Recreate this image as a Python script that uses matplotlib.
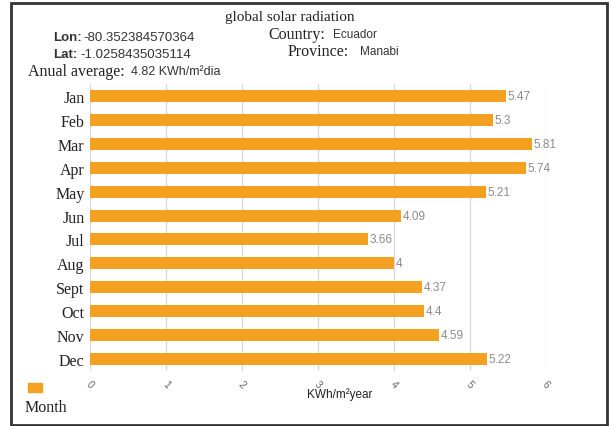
"""Global solar radiation by month - Manabi, Ecuador."""

import matplotlib
matplotlib.use("Agg")
import matplotlib.pyplot as plt
from matplotlib.patches import Rectangle

months = ["Jan", "Feb", "Mar", "Apr", "May", "Jun",
          "Jul", "Aug", "Sept", "Oct", "Nov", "Dec"]
radiation = [5.47, 5.3, 5.81, 5.74, 5.21, 4.09,
             3.66, 4, 4.37, 4.4, 4.59, 5.22]
value_labels = ["5.47", "5.3", "5.81", "5.74", "5.21", "4.09",
                "3.66", "4", "4.37", "4.4", "4.59", "5.22"]
x_ticks = [0, 1, 2, 3, 4, 5, 6]

lon = "-80.352384570364"
lat = "-1.0258435035114"
country = "Ecuador"
province = "Manabi"
annual_avg = "4.82"

W, H = 611, 427
ORANGE = "#F4A021"
SERIF = "Liberation Serif"
SANS = "Liberation Sans"
DARK = "#222222"

fig = plt.figure(figsize=(W / 100, H / 100), dpi=100)

# axes placed in pixel terms
left, right, top, bottom = 90, 546, 85, 372
ax = fig.add_axes([left / W, 1 - bottom / H, (right - left) / W, (bottom - top) / H])

y = list(range(len(months)))
ax.barh(y, radiation, height=0.5, color=ORANGE, zorder=3)
for yi, v, lab in zip(y, radiation, value_labels):
    ax.text(v + 0.02, yi, lab, va="center", ha="left", fontsize=8.5,
            family=SANS, color="#8a8a8a", zorder=4)

ax.set_xlim(0, 6)
ax.set_ylim(len(months) - 0.5, -0.5)
ax.set_yticks(y)
ax.set_yticklabels(months, family=SERIF, fontsize=11.5, color=DARK)
ax.set_xticks(x_ticks)
ax.set_xticklabels([str(t) for t in x_ticks], rotation=-45, fontsize=7.5,
                   color="#666666", family=SANS)
ax.tick_params(axis="both", length=0)
ax.tick_params(axis="x", pad=5)
ax.tick_params(axis="y", pad=4)
ax.grid(axis="x", color="#d8d8d8", linewidth=0.9, zorder=0)
for s in ax.spines.values():
    s.set_visible(False)

fig.text(340 / W, 1 - 395 / H, "KWh/m²year", ha="center", va="center",
         fontsize=8.5, family=SANS, color=DARK)

# header texts
fig.text(290 / W, 1 - 17 / H, "global solar radiation", ha="center", va="center",
         fontsize=11, family=SERIF, color=DARK)
fig.text(53 / W, 1 - 38 / H, "Lon:", ha="left", va="center", fontsize=9.5,
         family=SANS, fontweight="bold", color="#333333")
fig.text(83 / W, 1 - 38 / H, lon, ha="left", va="center", fontsize=9.5,
         family=SANS, color="#333333")
fig.text(53 / W, 1 - 55 / H, "Lat:", ha="left", va="center", fontsize=9.5,
         family=SANS, fontweight="bold", color="#333333")
fig.text(80 / W, 1 - 55 / H, lat, ha="left", va="center", fontsize=9.5,
         family=SANS, color="#333333")
fig.text(28 / W, 1 - 72 / H, "Anual average:", ha="left", va="center",
         fontsize=11.5, family=SERIF, color=DARK)
fig.text(131 / W, 1 - 72 / H, f"{annual_avg} KWh/m²dia", ha="left", va="center",
         fontsize=9, family=SANS, color="#333333")
fig.text(268 / W, 1 - 35 / H, "Country:", ha="left", va="center",
         fontsize=11.5, family=SERIF, color=DARK)
fig.text(333 / W, 1 - 35 / H, country, ha="left", va="center",
         fontsize=8.5, family=SANS, color="#333333")
fig.text(288 / W, 1 - 52 / H, "Province:", ha="left", va="center",
         fontsize=11.5, family=SERIF, color=DARK)
fig.text(360 / W, 1 - 52 / H, province, ha="left", va="center",
         fontsize=8.5, family=SANS, color="#333333")

# legend
fig.patches.append(Rectangle((28 / W, 1 - 393 / H), 14 / W, 9 / H,
                             transform=fig.transFigure, color=ORANGE))
fig.text(25 / W, 1 - 408 / H, "Month", ha="left", va="center",
         fontsize=11.5, family=SERIF, color=DARK)

# outer frame
fig.patches.append(Rectangle((11 / W, 1 - 426 / H), 596 / W, 422 / H,
                             transform=fig.transFigure, fill=False,
                             edgecolor="#333333", linewidth=2))

fig.savefig("out.png", dpi=100)
